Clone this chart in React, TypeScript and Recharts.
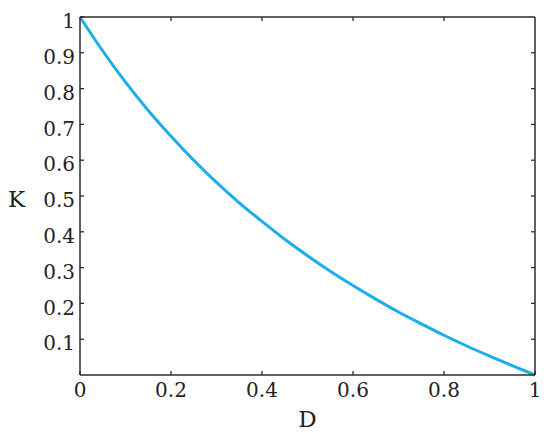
import React from 'react';
import { LineChart, Line, XAxis, YAxis } from 'recharts';

const dValues = [0, 0.05, 0.1, 0.15, 0.2, 0.25, 0.3, 0.35, 0.4, 0.45, 0.5, 0.55, 0.6, 0.65, 0.7, 0.75, 0.8, 0.85, 0.9, 0.95, 1];
const kValues = [1, 0.905, 0.818, 0.739, 0.667, 0.6, 0.538, 0.481, 0.429, 0.379, 0.333, 0.29, 0.25, 0.212, 0.176, 0.143, 0.111, 0.081, 0.053, 0.026, 0];
const xTicks = [0, 0.2, 0.4, 0.6, 0.8, 1];
const yTicks = [0.1, 0.2, 0.3, 0.4, 0.5, 0.6, 0.7, 0.8, 0.9, 1];
const innerXTicks = [0.2, 0.4, 0.6, 0.8];
const innerYTicks = [0.1, 0.2, 0.3, 0.4, 0.5, 0.6, 0.7, 0.8, 0.9];

const data = dValues.map((d, i) => ({ d, k: kValues[i] }));

const AXIS = '#2b2b2b';
const TEXT = '#222222';
const FONT = '"DejaVu Serif", serif';
const TICK_LEN = 4;
const X_MARGIN = 8;
const Y_MARGIN = 5;

const BottomTick = (props: any) => {
  const { x, y, payload } = props;
  const axisY = y - X_MARGIN;
  return (
    <g>
      <line x1={x} x2={x} y1={axisY} y2={axisY - TICK_LEN} stroke={AXIS} strokeWidth={1.3} />
      <text x={x} y={y} dy="0.71em" textAnchor="middle" fill={TEXT} fontSize={20} fontFamily={FONT}>
        {String(payload.value)}
      </text>
    </g>
  );
};

const LeftTick = (props: any) => {
  const { x, y, payload } = props;
  const axisX = x + Y_MARGIN;
  return (
    <g>
      <line x1={axisX} x2={axisX + TICK_LEN} y1={y} y2={y} stroke={AXIS} strokeWidth={1.3} />
      <text x={x} y={y + 4} dy="0.355em" textAnchor="end" fill={TEXT} fontSize={20} fontFamily={FONT}>
        {String(payload.value)}
      </text>
    </g>
  );
};

const TopTick = (props: any) => {
  const { x, y } = props;
  return <line x1={x} x2={x} y1={y} y2={y + TICK_LEN} stroke={AXIS} strokeWidth={1.3} />;
};

const RightTick = (props: any) => {
  const { x, y } = props;
  return <line x1={x} x2={x - TICK_LEN} y1={y} y2={y} stroke={AXIS} strokeWidth={1.3} />;
};

export default function App() {
  return (
    <div style={{ position: 'absolute', left: 0, top: 0, width: 550, height: 433, background: '#fff' }}>
      <LineChart width={550} height={433} data={data} margin={{ top: 16, right: 14, left: 0, bottom: 0 }}>
        <XAxis
          dataKey="d"
          type="number"
          domain={[0, 1]}
          ticks={xTicks}
          height={58}
          tickSize={0}
          tickMargin={X_MARGIN}
          tickLine={false}
          tick={<BottomTick />}
          axisLine={{ stroke: AXIS, strokeWidth: 1.5 }}
          interval={0}
          label={{ value: 'D', position: 'insideBottom', offset: 6, fill: TEXT, fontSize: 23, fontFamily: FONT }}
        />
        <XAxis
          xAxisId="top"
          orientation="top"
          dataKey="d"
          type="number"
          domain={[0, 1]}
          ticks={innerXTicks}
          height={1}
          tickSize={0}
          tickMargin={0}
          tickLine={false}
          tick={<TopTick />}
          axisLine={{ stroke: AXIS, strokeWidth: 1.5 }}
          interval={0}
        />
        <YAxis
          type="number"
          domain={[0, 1]}
          ticks={yTicks}
          width={80}
          tickSize={0}
          tickMargin={Y_MARGIN}
          tickLine={false}
          tick={<LeftTick />}
          axisLine={{ stroke: AXIS, strokeWidth: 1.5 }}
          interval={0}
          label={{ value: 'K', position: 'insideLeft', offset: 8, dy: 3, fill: TEXT, fontSize: 23, fontFamily: FONT }}
        />
        <YAxis
          yAxisId="right"
          orientation="right"
          type="number"
          domain={[0, 1]}
          ticks={innerYTicks}
          width={1}
          tickSize={0}
          tickMargin={0}
          tickLine={false}
          tick={<RightTick />}
          axisLine={{ stroke: AXIS, strokeWidth: 1.5 }}
          interval={0}
        />
        <Line
          xAxisId="top"
          yAxisId="right"
          type="monotone"
          dataKey="k"
          stroke="none"
          strokeWidth={0}
          dot={false}
          activeDot={false}
          isAnimationActive={false}
        />
        <Line
          type="monotone"
          dataKey="k"
          stroke="#1aaeea"
          strokeWidth={3}
          dot={false}
          isAnimationActive={false}
        />
      </LineChart>
    </div>
  );
}
